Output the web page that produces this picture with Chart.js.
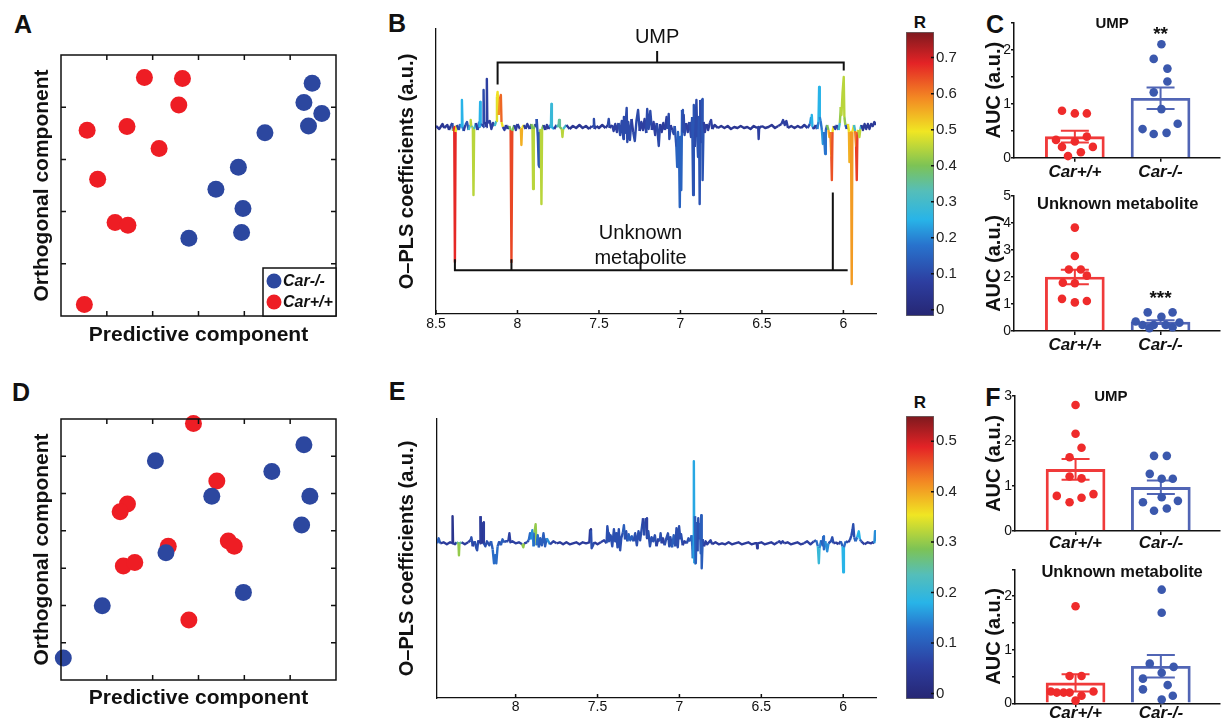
<!DOCTYPE html>
<html>
<head>
<meta charset="utf-8">
<title>Car metabolomics</title>
<script src="https://cdn.jsdelivr.net/npm/chart.js@4.4.1/dist/chart.umd.min.js"></script>
<style>
  html, body { margin: 0; padding: 0; background: #fff; }
  #fig { position: relative; width: 1224px; height: 720px; overflow: hidden; background: #fff;
         font-family: "Liberation Sans", Arial, Helvetica, sans-serif; color: #111; }
  #fig canvas { position: absolute; left: 0; top: 0; }
  .tag { position: absolute; font-weight: bold; line-height: 1; transform: translate(-50%, -50%); }
</style>
</head>
<body>
<div id="fig">
  <div class="tag" style="left:23px;top:24px;font-size:25px">A</div>
  <div class="tag" style="left:397px;top:23px;font-size:25px">B</div>
  <div class="tag" style="left:995px;top:24px;font-size:25px">C</div>
  <div class="tag" style="left:21px;top:392px;font-size:25px">D</div>
  <div class="tag" style="left:397px;top:391px;font-size:25px">E</div>
  <div class="tag" style="left:993px;top:397px;font-size:25px">F</div>
  <div class="tag" style="left:920px;top:22px;font-size:17px">R</div>
  <div class="tag" style="left:920px;top:402px;font-size:17px">R</div>
</div>
<script>
// ---------------- data ----------------
const groupLabels = ['Car+/+', 'Car-/-'];

// O-PLS score plots (predictive vs orthogonal component)
const aRedX  = [1.82, 2.65, 2.57, 0.57, 1.44, 2.14, 0.80, 1.18, 1.46, 0.51];
const aRedY  = [4.57, 4.55, 4.04, 3.56, 3.63, 3.21, 2.62, 1.79, 1.74, 0.22];
const aBlueX = [5.48, 5.30, 5.69, 5.40, 4.45, 3.87, 3.38, 3.97, 3.94, 2.79];
const aBlueY = [4.46, 4.09, 3.88, 3.64, 3.51, 2.85, 2.43, 2.06, 1.60, 1.49];
const dRedX  = [2.89, 3.40, 1.45, 1.29, 2.34, 3.65, 3.78, 1.36, 1.61, 2.79];
const dRedY  = [6.88, 5.34, 4.72, 4.51, 3.59, 3.73, 3.59, 3.06, 3.15, 1.61];
const dBlueX = [5.30, 2.06, 4.60, 5.43, 3.29, 5.25, 2.29, 3.98, 0.90, 0.05];
const dBlueY = [6.31, 5.88, 5.59, 4.93, 4.93, 4.16, 3.41, 2.35, 1.99, 0.59];

// O-PLS coefficient spectra: [ppm, coefficient, R]
const specB = [
  [8.50,0.01,0.05],[8.48,-0.02,0.05],[8.46,0.03,0.05],[8.45,-0.01,0.05],[8.43,0.02,0.06],[8.42,-0.03,0.05],
  [8.41,0.01,0.05],[8.40,0.04,0.08],[8.395,-0.04,0.10],[8.388,0.0,0.45],[8.384,-1.35,0.68],[8.380,-0.05,0.50],
  [8.372,0.02,0.06],[8.36,-0.03,0.08],[8.352,0.03,0.10],[8.345,0.0,0.20],[8.341,0.27,0.25],[8.337,0.0,0.20],
  [8.33,-0.04,0.08],[8.32,0.02,0.07],[8.31,0.05,0.12],[8.30,-0.03,0.08],[8.29,0.02,0.30],[8.287,0.07,0.45],
  [8.283,0.0,0.30],[8.274,0.0,0.30],[8.270,-0.68,0.45],[8.266,-0.02,0.30],[8.255,0.04,0.08],[8.245,-0.03,0.08],
  [8.235,0.05,0.10],[8.232,0.0,0.20],[8.229,0.25,0.25],[8.226,0.02,0.20],[8.215,0.03,0.08],[8.211,0.0,0.08],
  [8.208,0.37,0.10],[8.205,0.03,0.08],[8.195,0.05,0.06],[8.191,0.0,0.06],[8.188,0.48,0.08],[8.185,0.04,0.06],
  [8.17,0.06,0.08],[8.16,-0.02,0.06],[8.15,0.04,0.08],[8.14,0.01,0.07],[8.13,0.06,0.30],[8.126,0.30,0.48],
  [8.122,0.35,0.50],[8.115,0.12,0.50],[8.108,0.28,0.58],[8.102,0.32,0.62],[8.098,0.05,0.50],[8.09,0.0,0.08],
  [8.08,-0.03,0.08],[8.07,0.02,0.07],[8.06,-0.02,0.06],[8.05,0.01,0.06],[8.042,-0.03,0.40],[8.037,-1.35,0.65],
  [8.032,-0.04,0.40],[8.02,0.02,0.06],[8.01,-0.03,0.08],[8.00,0.03,0.07],[7.985,-0.02,0.06],[7.979,-0.02,0.50],
  [7.976,-0.18,0.55],[7.972,-0.01,0.50],[7.96,0.02,0.06],[7.95,-0.02,0.06],[7.94,0.03,0.07],[7.925,-0.02,0.06],
  [7.915,0.03,0.08],[7.908,-0.02,0.40],[7.904,-0.62,0.45],[7.900,-0.02,0.40],[7.892,0.03,0.08],[7.885,0.0,0.08],
  [7.882,0.08,0.10],[7.875,-0.10,0.12],[7.870,-0.38,0.12],[7.866,-0.40,0.12],[7.862,-0.05,0.12],[7.857,-0.02,0.40],
  [7.853,-0.77,0.45],[7.849,-0.02,0.40],[7.84,0.02,0.07],[7.83,-0.03,0.06],[7.82,0.02,0.06],[7.81,-0.02,0.06],
  [7.80,0.02,0.07],[7.795,0.0,0.25],[7.792,0.23,0.28],[7.789,0.0,0.25],[7.775,-0.02,0.06],[7.76,0.02,0.07],
  [7.748,0.0,0.30],[7.745,0.07,0.35],[7.740,0.0,0.30],[7.728,-0.02,0.40],[7.724,-0.10,0.45],[7.720,-0.02,0.30],
  [7.70,0.02,0.06],[7.68,-0.02,0.05],[7.66,0.01,0.05],[7.64,-0.01,0.05],[7.62,0.02,0.05],[7.60,-0.01,0.05],
  [7.58,0.01,0.05],[7.56,-0.02,0.05],[7.545,0.01,0.06],[7.535,0.0,0.08],[7.531,0.08,0.10],[7.527,-0.02,0.08],
  [7.515,0.01,0.05],[7.50,-0.01,0.05],[7.48,0.02,0.05],[7.46,-0.01,0.05],[7.445,0.02,0.06],[7.44,0.08,0.10],
  [7.435,-0.01,0.06],[7.42,0.02,0.06],[7.41,-0.04,0.08],[7.40,0.03,0.06],[7.39,-0.05,0.08],[7.38,0.04,0.08],
  [7.37,-0.08,0.10],[7.36,0.06,0.08],[7.35,-0.12,0.10],[7.347,0.10,0.10],[7.34,-0.06,0.08],[7.33,0.19,0.10],
  [7.326,-0.15,0.10],[7.32,0.05,0.08],[7.31,-0.13,0.10],[7.30,0.08,0.08],[7.29,-0.05,0.08],[7.28,-0.14,0.10],
  [7.27,0.06,0.08],[7.26,0.17,0.10],[7.25,-0.04,0.08],[7.24,0.05,0.08],[7.23,-0.03,0.07],[7.22,0.08,0.08],
  [7.21,-0.06,0.08],[7.204,0.18,0.10],[7.195,-0.02,0.08],[7.185,0.16,0.10],[7.175,-0.03,0.08],[7.165,0.05,0.08],
  [7.155,-0.08,0.08],[7.145,0.04,0.07],[7.133,-0.19,0.10],[7.125,0.03,0.07],[7.115,-0.05,0.07],[7.105,0.04,0.07],
  [7.095,-0.03,0.07],[7.085,0.10,0.08],[7.078,-0.02,0.07],[7.072,0.13,0.10],[7.068,-0.12,0.10],[7.06,0.02,0.07],
  [7.05,-0.03,0.07],[7.041,-0.07,0.10],[7.035,0.01,0.08],[7.025,-0.20,0.12],[7.02,-0.40,0.15],[7.015,-0.05,0.12],
  [7.008,-0.30,0.15],[7.004,-0.80,0.15],[7.000,-0.10,0.12],[6.995,-0.63,0.15],[6.990,0.17,0.12],[6.985,-0.05,0.10],
  [6.980,0.12,0.10],[6.975,-0.08,0.10],[6.965,0.04,0.08],[6.955,-0.05,0.08],[6.945,0.05,0.08],[6.935,-0.10,0.10],
  [6.928,0.10,0.10],[6.922,-0.68,0.12],[6.918,0.22,0.12],[6.912,-0.20,0.10],[6.906,0.05,0.10],[6.902,0.27,0.10],
  [6.897,-0.10,0.10],[6.892,-0.30,0.12],[6.886,0.10,0.10],[6.882,-0.77,0.12],[6.878,0.27,0.10],[6.872,-0.15,0.10],
  [6.867,0.28,0.10],[6.864,-0.53,0.12],[6.858,0.05,0.08],[6.85,-0.05,0.08],[6.84,0.03,0.07],[6.83,-0.03,0.07],
  [6.82,0.04,0.07],[6.812,0.07,0.08],[6.805,-0.02,0.06],[6.79,0.02,0.06],[6.77,-0.01,0.05],[6.75,0.01,0.05],
  [6.73,-0.01,0.05],[6.71,0.01,0.05],[6.69,-0.02,0.05],[6.67,0.0,0.05],[6.65,-0.01,0.05],[6.63,0.01,0.05],
  [6.61,-0.01,0.05],[6.59,0.0,0.05],[6.57,-0.02,0.05],[6.55,0.01,0.05],[6.53,-0.01,0.05],[6.523,0.0,0.06],
  [6.52,-0.12,0.08],[6.517,-0.01,0.06],[6.50,0.01,0.05],[6.48,-0.01,0.05],[6.46,0.0,0.05],[6.44,0.02,0.05],
  [6.42,-0.01,0.05],[6.40,0.01,0.05],[6.38,0.03,0.06],[6.37,0.07,0.08],[6.36,0.02,0.06],[6.35,0.06,0.08],
  [6.34,-0.01,0.05],[6.32,0.01,0.05],[6.30,-0.01,0.05],[6.28,0.01,0.05],[6.26,-0.01,0.05],[6.24,0.02,0.06],
  [6.22,-0.01,0.06],[6.205,0.03,0.10],[6.198,0.10,0.22],[6.194,0.12,0.25],[6.19,0.0,0.10],[6.18,-0.02,0.06],
  [6.17,0.02,0.07],[6.16,-0.02,0.08],[6.153,0.05,0.20],[6.149,0.40,0.25],[6.145,0.10,0.20],[6.14,0.06,0.15],
  [6.132,-0.03,0.18],[6.126,-0.17,0.22],[6.12,-0.05,0.15],[6.112,-0.27,0.18],[6.108,-0.03,0.12],[6.10,0.02,0.07],
  [6.092,-0.03,0.40],[6.086,-0.10,0.55],[6.08,-0.05,0.50],[6.074,-0.30,0.60],[6.071,-0.53,0.64],[6.067,-0.05,0.50],
  [6.06,0.01,0.07],[6.05,-0.02,0.07],[6.04,0.02,0.07],[6.03,-0.03,0.08],[6.022,0.04,0.30],[6.016,0.20,0.42],
  [6.012,0.12,0.45],[6.005,0.35,0.45],[5.998,0.50,0.45],[5.994,0.10,0.42],[5.988,0.02,0.15],[5.98,-0.02,0.08],
  [5.972,0.03,0.07],[5.966,-0.05,0.50],[5.963,-0.35,0.55],[5.958,-0.05,0.50],[5.953,-0.05,0.50],[5.949,-1.57,0.57],
  [5.945,-0.05,0.50],[5.935,0.02,0.07],[5.928,-0.04,0.30],[5.922,-0.20,0.60],[5.918,-0.53,0.66],[5.914,-0.05,0.50],
  [5.908,-0.03,0.40],[5.902,-0.10,0.45],[5.896,-0.02,0.30],[5.89,0.02,0.06],[5.88,-0.03,0.06],[5.87,0.03,0.06],
  [5.86,-0.02,0.06],[5.85,0.03,0.06],[5.84,-0.02,0.06],[5.83,0.03,0.06],[5.82,0.01,0.06],[5.81,0.05,0.06],
  [5.80,0.02,0.06]
];
const specE = [
  [8.48,0.0,0.05],[8.47,0.05,0.10],[8.46,0.0,0.05],[8.44,0.01,0.05],[8.42,-0.01,0.05],[8.40,0.01,0.05],
  [8.388,0.0,0.03],[8.385,0.27,0.0],[8.382,0.0,0.03],[8.37,-0.01,0.05],[8.36,0.01,0.05],[8.349,0.0,0.25],
  [8.346,-0.12,0.30],[8.343,0.0,0.25],[8.33,0.01,0.05],[8.31,-0.01,0.05],[8.29,0.01,0.05],[8.275,0.03,0.06],
  [8.27,0.06,0.08],[8.262,-0.03,0.06],[8.25,0.02,0.06],[8.24,-0.05,0.08],[8.235,-0.07,0.08],[8.228,0.03,0.06],
  [8.22,0.0,0.05],[8.217,0.0,0.03],[8.214,0.27,0.0],[8.211,0.01,0.05],[8.20,0.0,0.03],[8.197,0.21,0.03],
  [8.194,0.0,0.05],[8.185,-0.03,0.08],[8.175,0.02,0.07],[8.16,-0.02,0.08],[8.15,0.02,0.08],[8.14,-0.06,0.10],
  [8.132,-0.20,0.12],[8.125,-0.12,0.12],[8.118,-0.20,0.12],[8.11,-0.03,0.10],[8.10,0.02,0.08],[8.09,-0.02,0.08],
  [8.08,0.04,0.10],[8.07,0.01,0.08],[8.06,0.02,0.08],[8.045,0.02,0.06],[8.038,0.10,0.06],[8.032,0.01,0.06],
  [8.02,0.02,0.06],[8.00,0.0,0.05],[7.98,0.01,0.06],[7.96,-0.01,0.06],[7.953,-0.04,0.30],[7.948,0.0,0.06],
  [7.93,0.01,0.06],[7.92,0.03,0.08],[7.912,0.10,0.12],[7.905,0.04,0.10],[7.898,0.13,0.15],[7.89,-0.03,0.10],
  [7.885,0.11,0.12],[7.878,0.19,0.30],[7.872,-0.02,0.12],[7.865,0.08,0.12],[7.858,-0.04,0.10],[7.85,0.05,0.10],
  [7.84,-0.02,0.08],[7.83,0.10,0.10],[7.82,-0.03,0.08],[7.81,0.05,0.10],[7.80,0.02,0.15],[7.79,-0.01,0.06],
  [7.77,0.02,0.06],[7.75,0.0,0.05],[7.73,0.01,0.05],[7.71,-0.01,0.05],[7.69,0.01,0.05],[7.67,-0.01,0.05],
  [7.65,0.0,0.05],[7.63,0.01,0.05],[7.61,-0.01,0.05],[7.59,0.01,0.05],[7.57,0.0,0.05],[7.55,0.01,0.05],
  [7.545,0.14,0.02],[7.54,0.13,0.02],[7.536,-0.05,0.08],[7.53,-0.03,0.08],[7.52,0.01,0.05],[7.50,-0.01,0.05],
  [7.48,0.01,0.05],[7.46,0.03,0.06],[7.445,0.0,0.06],[7.44,0.17,0.08],[7.435,0.10,0.08],[7.43,0.02,0.06],
  [7.42,0.08,0.08],[7.41,-0.03,0.06],[7.40,0.14,0.08],[7.392,0.02,0.06],[7.385,0.10,0.08],[7.378,-0.04,0.06],
  [7.37,0.14,0.08],[7.362,-0.07,0.08],[7.355,0.05,0.06],[7.345,0.11,0.08],[7.339,0.18,0.10],[7.332,0.04,0.06],
  [7.325,0.12,0.08],[7.318,0.02,0.06],[7.31,0.09,0.10],[7.30,0.03,0.10],[7.29,0.07,0.10],[7.28,0.02,0.06],
  [7.27,0.10,0.08],[7.26,-0.02,0.06],[7.25,0.12,0.08],[7.24,0.03,0.06],[7.23,0.15,0.08],[7.222,0.25,0.03],
  [7.216,0.08,0.06],[7.21,0.20,0.08],[7.204,0.25,0.03],[7.198,0.05,0.06],[7.19,0.12,0.08],[7.18,-0.03,0.06],
  [7.17,0.06,0.08],[7.16,0.02,0.06],[7.15,0.08,0.08],[7.14,-0.03,0.06],[7.13,0.04,0.06],[7.12,0.02,0.06],
  [7.115,0.10,0.08],[7.108,0.0,0.06],[7.10,0.05,0.06],[7.09,-0.02,0.06],[7.08,0.05,0.08],[7.07,0.10,0.08],
  [7.062,-0.03,0.06],[7.055,0.06,0.08],[7.045,-0.04,0.08],[7.035,0.08,0.10],[7.025,-0.03,0.08],[7.018,0.15,0.08],
  [7.01,-0.04,0.08],[7.002,0.17,0.08],[6.995,0.05,0.06],[6.99,0.09,0.08],[6.98,-0.02,0.06],[6.97,0.02,0.06],
  [6.955,0.0,0.06],[6.945,0.05,0.08],[6.935,0.02,0.08],[6.925,0.08,0.10],[6.918,-0.15,0.12],[6.915,0.0,0.15],
  [6.912,0.82,0.17],[6.909,-0.20,0.15],[6.905,0.27,0.08],[6.900,-0.20,0.10],[6.895,0.20,0.10],[6.890,-0.08,0.08],
  [6.885,0.25,0.08],[6.880,0.05,0.08],[6.875,0.20,0.08],[6.870,-0.10,0.10],[6.867,0.28,0.08],[6.864,-0.25,0.10],
  [6.858,0.04,0.08],[6.85,-0.03,0.06],[6.84,0.02,0.06],[6.83,-0.01,0.05],[6.81,0.03,0.06],[6.80,-0.01,0.05],
  [6.78,0.01,0.05],[6.76,-0.01,0.05],[6.74,0.0,0.05],[6.72,-0.01,0.05],[6.70,0.01,0.05],[6.68,-0.01,0.05],
  [6.66,0.0,0.05],[6.64,0.01,0.05],[6.62,-0.01,0.05],[6.60,0.0,0.05],[6.58,0.01,0.05],[6.56,-0.01,0.05],
  [6.54,0.0,0.05],[6.528,0.0,0.05],[6.525,-0.05,0.05],[6.522,0.0,0.05],[6.50,0.01,0.05],[6.48,-0.01,0.05],
  [6.46,0.0,0.05],[6.44,0.01,0.05],[6.42,-0.01,0.05],[6.40,0.01,0.05],[6.39,0.02,0.06],[6.38,0.0,0.05],
  [6.37,0.02,0.06],[6.36,0.0,0.05],[6.34,0.01,0.05],[6.32,-0.01,0.05],[6.30,0.0,0.05],[6.28,0.01,0.05],
  [6.26,-0.01,0.05],[6.24,0.0,0.05],[6.22,0.02,0.06],[6.20,-0.01,0.05],[6.18,0.02,0.06],[6.165,0.03,0.08],
  [6.155,-0.03,0.12],[6.149,-0.20,0.20],[6.145,-0.05,0.15],[6.135,0.03,0.08],[6.126,-0.02,0.10],[6.122,0.07,0.10],
  [6.118,-0.06,0.12],[6.11,0.02,0.08],[6.098,-0.08,0.15],[6.09,0.0,0.08],[6.075,0.02,0.06],[6.067,0.06,0.08],
  [6.06,0.0,0.06],[6.045,0.01,0.05],[6.03,-0.01,0.05],[6.015,0.02,0.06],[6.004,-0.03,0.10],[6.0,-0.29,0.18],
  [5.996,-0.04,0.12],[5.985,0.02,0.08],[5.97,0.01,0.06],[5.96,0.03,0.06],[5.95,0.08,0.08],[5.943,0.14,0.08],
  [5.939,0.19,0.06],[5.933,0.06,0.08],[5.925,0.02,0.10],[5.915,0.06,0.12],[5.905,0.12,0.18],[5.898,0.04,0.10],
  [5.89,0.02,0.06],[5.87,-0.01,0.05],[5.85,0.01,0.05],[5.83,0.0,0.05],[5.82,0.01,0.05],[5.81,0.0,0.05],
  [5.806,0.12,0.15],[5.802,0.11,0.15],[5.80,0.02,0.05]
];
const specBTicks = [8.5, 8, 7.5, 7, 6.5, 6];
const specETicks = [8, 7.5, 7, 6.5, 6];

// colour bar limits and labelled values of R
const cbBRange = [-0.017, 0.771];
const cbBTicks = [0, 0.1, 0.2, 0.3, 0.4, 0.5, 0.6, 0.7];
const cbERange = [-0.011, 0.55];
const cbETicks = [0, 0.1, 0.2, 0.3, 0.4, 0.5];

// AUC per animal, group means and SEM
const cUmpMean = [0.39, 1.10], cUmpSem = [0.11, 0.20];
const cUmpRed  = [0.87, 0.82, 0.82, 0.39, 0.33, 0.30, 0.20, 0.20, 0.10, 0.03];
const cUmpRedJit  = [-0.15, 0.00, 0.14, 0.14, -0.22, 0.00, 0.21, -0.15, 0.07, -0.08];
const cUmpBlue = [2.10, 1.83, 1.65, 1.41, 1.21, 0.90, 0.63, 0.53, 0.44, 0.46];
const cUmpBlueJit = [0.01, -0.08, 0.08, 0.08, -0.08, 0.01, 0.20, -0.21, -0.08, 0.07];

const cUnkMean = [2.00, 0.33], cUnkSem = [0.27, 0.07];
const cUnkRed  = [3.83, 2.78, 2.28, 2.28, 2.05, 1.79, 1.77, 1.19, 1.06, 1.11];
const cUnkRedJit  = [0.00, 0.00, -0.07, 0.07, 0.14, -0.14, 0.00, -0.15, 0.00, 0.14];
const cUnkBlue = [0.69, 0.69, 0.53, 0.35, 0.31, 0.22, 0.22, 0.22, 0.10, 0.14];
const cUnkBlueJit = [-0.15, 0.14, 0.01, -0.29, 0.22, -0.21, -0.08, 0.06, -0.13, 0.14];

const fUmpMean = [1.37, 0.97], fUmpSem = [0.23, 0.15];
const fUmpRed  = [2.80, 2.16, 1.85, 1.64, 1.21, 1.17, 0.78, 0.74, 0.82, 0.64];
const fUmpRedJit  = [0.00, 0.00, 0.07, -0.07, -0.07, 0.07, -0.22, 0.07, 0.21, -0.07];
const fUmpBlue = [1.67, 1.67, 1.27, 1.16, 1.16, 0.75, 0.64, 0.67, 0.45, 0.50];
const fUmpBlueJit = [-0.08, 0.07, -0.13, 0.01, 0.14, 0.01, -0.21, 0.20, -0.08, 0.07];

const fUnkMean = [0.38, 0.69], fUnkSem = [0.16, 0.21];
const fUnkRed  = [1.81, 0.51, 0.51, 0.22, 0.20, 0.20, 0.20, 0.14, 0.22, 0.05];
const fUnkRedJit  = [0.00, -0.07, 0.07, -0.29, -0.22, -0.14, -0.07, 0.07, 0.21, 0.00];
const fUnkBlue = [2.12, 1.69, 0.74, 0.68, 0.57, 0.46, 0.34, 0.26, 0.07, 0.14];
const fUnkBlueJit = [0.01, 0.01, -0.13, 0.15, 0.01, -0.21, 0.08, -0.21, 0.01, 0.14];

// ---------------- styling ----------------
const FONT = '"Liberation Sans", Arial, Helvetica, sans-serif';
const INK = '#111';
const DOT_RED = '#ee1d24', DOT_BLUE = '#2c479f';
const PT_RED = '#ef2b2b', PT_BLUE = '#3b58ad';
const BAR_RED = '#f03a3a', BAR_BLUE = '#5165b5';
const JET = [
  [0.00, [38, 38, 115]], [0.12, [45, 62, 160]], [0.25, [40, 115, 205]], [0.34, [40, 180, 232]],
  [0.44, [85, 190, 185]], [0.53, [125, 195, 85]], [0.65, [240, 230, 35]], [0.77, [243, 135, 35]],
  [0.89, [228, 35, 38]], [1.00, [125, 25, 30]]
];

Chart.defaults.font.family = FONT;
Chart.defaults.color = INK;
Chart.defaults.animation = false;
Chart.defaults.events = [];
Chart.defaults.plugins.legend.display = false;
Chart.defaults.plugins.tooltip.enabled = false;

function jetColor(v, range) {
  let t = (v - range[0]) / (range[1] - range[0]);
  t = Math.max(0, Math.min(1, t));
  for (let i = 1; i < JET.length; i++) {
    if (t <= JET[i][0]) {
      const [t0, c0] = JET[i - 1], [t1, c1] = JET[i];
      const f = (t - t0) / (t1 - t0);
      const c = c0.map((a, k) => Math.round(a + (c1[k] - a) * f));
      return `rgb(${c[0]},${c[1]},${c[2]})`;
    }
  }
  return `rgb(${JET[JET.length - 1][1].join(',')})`;
}

const FIG = document.getElementById('fig');
function makeCanvas() {
  const c = document.createElement('canvas');
  c.width = 1224; c.height = 720;
  c.style.width = '1224px'; c.style.height = '720px';
  FIG.appendChild(c);
  return c;
}

// ---------------- plugins ----------------
function framePlugin(box, sides, len) {
  return {
    id: 'frame',
    afterDraw(chart) {
      const { ctx, chartArea: a, scales } = chart;
      ctx.save();
      ctx.strokeStyle = INK; ctx.lineWidth = 1.5;
      if (box) ctx.strokeRect(a.left, a.top, a.right - a.left, a.bottom - a.top);
      ctx.beginPath();
      sides.forEach(side => {
        const horiz = side === 'top' || side === 'bottom';
        const sc = horiz ? scales.x : scales.y;
        sc.ticks.forEach(t => {
          const p = sc.getPixelForValue(t.value);
          if (horiz) {
            if (box && (p <= a.left + 1 || p >= a.right - 1)) return;
            const y0 = side === 'bottom' ? a.bottom : a.top;
            ctx.moveTo(p, y0); ctx.lineTo(p, side === 'bottom' ? y0 - len : y0 + len);
          } else {
            if (box && (p <= a.top + 1 || p >= a.bottom - 1)) return;
            const x0 = side === 'left' ? a.left : a.right;
            ctx.moveTo(x0, p); ctx.lineTo(side === 'left' ? x0 + len : x0 - len, p);
          }
        });
      });
      ctx.stroke();
      ctx.restore();
    }
  };
}

const scoreLegend = {
  id: 'scoreLegend',
  afterDraw(chart) {
    const { ctx, chartArea: a } = chart;
    const w = 73, h = 48, x0 = a.right - w, y0 = a.bottom - h;
    ctx.save();
    ctx.fillStyle = '#fff'; ctx.fillRect(x0, y0, w, h);
    ctx.strokeStyle = INK; ctx.lineWidth = 1.5; ctx.strokeRect(x0, y0, w, h);
    chart.data.datasets.forEach((ds, i) => {
      const cy = y0 + 13 + i * 21;
      ctx.fillStyle = ds.backgroundColor;
      ctx.beginPath(); ctx.arc(x0 + 11, cy, 7.5, 0, Math.PI * 2); ctx.fill();
      ctx.fillStyle = INK;
      ctx.font = `italic bold 16px ${FONT}`;
      ctx.textBaseline = 'middle'; ctx.textAlign = 'left';
      ctx.fillText(ds.label, x0 + 20, cy + 1);
    });
    ctx.restore();
  }
};

function textPlugin(items) {
  return {
    id: 'texts',
    afterDatasetsDraw(chart) {
      const { ctx, scales: { x, y } } = chart;
      ctx.save();
      ctx.textAlign = 'center'; ctx.textBaseline = 'middle'; ctx.fillStyle = INK;
      items.forEach(it => {
        ctx.font = it.font;
        ctx.fillText(it.text, x.getPixelForValue(it.x), y.getPixelForValue(it.y));
      });
      ctx.restore();
    }
  };
}

function linePlugin(segs) {
  return {
    id: 'brackets',
    afterDatasetsDraw(chart) {
      const { ctx, scales: { x, y } } = chart;
      ctx.save();
      ctx.strokeStyle = INK; ctx.lineWidth = 2; ctx.lineCap = 'square';
      ctx.beginPath();
      segs.forEach(([x1, y1, x2, y2]) => {
        ctx.moveTo(x.getPixelForValue(x1), y.getPixelForValue(y1));
        ctx.lineTo(x.getPixelForValue(x2), y.getPixelForValue(y2));
      });
      ctx.stroke();
      ctx.restore();
    }
  };
}

function errorBarPlugin(means, sems) {
  return {
    id: 'errorBars',
    beforeDatasetsDraw(chart) {
      const { ctx, scales: { x, y } } = chart;
      ctx.save(); ctx.lineWidth = 2;
      means.forEach((m, i) => {
        const px = x.getPixelForValue(i + 1);
        const top = y.getPixelForValue(m + sems[i]), bot = y.getPixelForValue(m - sems[i]);
        ctx.strokeStyle = i === 0 ? BAR_RED : BAR_BLUE;
        ctx.beginPath();
        ctx.moveTo(px, top); ctx.lineTo(px, bot);
        ctx.moveTo(px - 14, top); ctx.lineTo(px + 14, top);
        ctx.moveTo(px - 14, bot); ctx.lineTo(px + 14, bot);
        ctx.stroke();
      });
      ctx.restore();
    }
  };
}

// ---------------- chart builders ----------------
function scoresChart(cfg) {
  const a = cfg.area;
  const lh = 21 * 1.2;
  const xH = cfg.xTitleY + lh / 2 - a.bottom;
  const pts = (xs, ys) => xs.map((v, i) => ({ x: v, y: ys[i] }));
  const plugins = [framePlugin(true, ['bottom', 'top', 'left', 'right'], 5)];
  if (cfg.legend) plugins.push(scoreLegend);
  new Chart(makeCanvas(), {
    type: 'scatter',
    data: { datasets: [
      { label: 'Car-/-', data: pts(cfg.blueX, cfg.blueY), backgroundColor: DOT_BLUE, pointRadius: 8.5, borderWidth: 0, clip: false },
      { label: 'Car+/+', data: pts(cfg.redX, cfg.redY), backgroundColor: DOT_RED, pointRadius: 8.5, borderWidth: 0, clip: false }
    ] },
    options: {
      responsive: false,
      layout: { padding: { left: 0, top: a.top, right: 1224 - a.right, bottom: 720 - a.bottom - xH } },
      scales: {
        x: { type: 'linear', min: 0, max: 6, ticks: { display: false, stepSize: 1 },
             grid: { display: false, drawTicks: false }, border: { display: false },
             title: { display: true, text: 'Predictive component', font: { size: 21, weight: 'bold' }, padding: 0 },
             afterFit: s => { s.height = xH; } },
        y: { type: 'linear', min: 0, max: cfg.yMax, ticks: { display: false, stepSize: 1 },
             grid: { display: false, drawTicks: false }, border: { display: false },
             title: { display: true, text: 'Orthogonal component', font: { size: 21, weight: 'bold' },
                      padding: { top: cfg.yTitleX - lh / 2, bottom: 0 } },
             afterFit: s => { s.width = a.left; } }
      }
    },
    plugins
  });
}

function spectrumChart(cfg) {
  const a = cfg.area, spec = cfg.spec;
  const R = spec.map(p => p[2]);
  const yLeft = 390, yW = a.left - yLeft, xH = 30;
  new Chart(makeCanvas(), {
    type: 'line',
    data: { datasets: [{
      data: spec.map(p => ({ x: p[0], y: p[1] })),
      borderWidth: 2.4, pointRadius: 0, tension: 0, borderJoinStyle: 'round',
      borderColor: jetColor(0.05, cfg.range),
      segment: { borderColor: c => jetColor(Math.max(R[c.p0DataIndex], R[c.p1DataIndex]), cfg.range) }
    }] },
    options: {
      responsive: false,
      layout: { padding: { left: yLeft, top: a.top, right: 1224 - a.right, bottom: 720 - a.bottom - xH } },
      scales: {
        x: { type: 'linear', reverse: true, min: 5.8, max: cfg.xMax,
             afterBuildTicks: s => { s.ticks = cfg.ticks.map(v => ({ value: v })); },
             ticks: { callback: v => String(v), font: { size: 14 }, padding: cfg.labelPad, color: INK },
             grid: { display: false, drawTicks: false }, border: { display: true, color: INK, width: 1.3 },
             afterFit: s => { s.height = xH; } },
        y: { type: 'linear', min: cfg.yMin, max: cfg.yMax, ticks: { display: false },
             grid: { display: false, drawTicks: false }, border: { display: true, color: INK, width: 1.3 },
             title: { display: true, text: 'O–PLS coefficients (a.u.)', font: { size: 20, weight: 'bold' },
                      padding: { top: 5, bottom: 0 } },
             afterFit: s => { s.width = yW; } }
      }
    },
    plugins: [framePlugin(false, ['bottom'], 4)].concat(cfg.extra || [])
  });
}

function colorbarChart(cfg) {
  const a = cfg.area, axisW = 40;
  new Chart(makeCanvas(), {
    type: 'bar',
    data: { labels: ['R'], datasets: [{
      data: [[cfg.range[0], cfg.range[1]]],
      backgroundColor: ctx => {
        const ca = ctx.chart.chartArea;
        if (!ca) return '#888';
        const g = ctx.chart.ctx.createLinearGradient(0, ca.bottom, 0, ca.top);
        JET.forEach(([t, c]) => g.addColorStop(t, `rgb(${c[0]},${c[1]},${c[2]})`));
        return g;
      },
      borderColor: 'rgba(40,40,40,0.7)', borderWidth: 1, borderSkipped: false,
      barPercentage: 1, categoryPercentage: 1
    }] },
    options: {
      responsive: false,
      layout: { padding: { left: a.left, top: a.top, right: 1224 - a.right - axisW, bottom: 720 - a.bottom } },
      scales: {
        x: { display: false },
        y: { position: 'right', min: cfg.range[0], max: cfg.range[1],
             afterBuildTicks: s => { s.ticks = cfg.ticks.map(v => ({ value: v })); },
             ticks: { callback: v => (v === 0 ? '0' : v.toFixed(1)), font: { size: 15 }, padding: 2, color: '#222' },
             grid: { display: false, drawTicks: false }, border: { display: false },
             afterFit: s => { s.width = axisW; } }
      }
    },
    plugins: [framePlugin(false, ['right'], 3)]
  });
}

function aucChart(cfg) {
  const a = cfg.area;
  const yLeft = 975, yW = a.left - yLeft, xH = 26;
  const pts = (vals, jit, g) => vals.map((v, i) => ({ x: g + jit[i], y: v }));
  new Chart(makeCanvas(), {
    type: 'bar',
    data: { datasets: [
      { type: 'scatter', data: pts(cfg.red, cfg.redJit, 1), backgroundColor: PT_RED, pointRadius: 4.3, borderWidth: 0, order: 1, clip: false },
      { type: 'scatter', data: pts(cfg.blue, cfg.blueJit, 2), backgroundColor: PT_BLUE, pointRadius: 4.3, borderWidth: 0, order: 1, clip: false },
      { type: 'bar', data: [{ x: 1, y: cfg.mean[0] }, { x: 2, y: cfg.mean[1] }],
        backgroundColor: 'rgba(255,255,255,0)', borderColor: [BAR_RED, BAR_BLUE], borderWidth: 2.2,
        barThickness: 59, grouped: false, order: 2 }
    ] },
    options: {
      responsive: false,
      layout: { padding: { left: yLeft, top: a.top, right: 1224 - a.right, bottom: 720 - a.bottom - xH } },
      scales: {
        x: { type: 'linear', offset: false, min: 0.29, max: 2.69,
             afterBuildTicks: s => { s.ticks = [{ value: 1 }, { value: 2 }]; },
             ticks: { callback: v => groupLabels[Math.round(v) - 1], font: { size: 17, weight: 'bold', style: 'italic' },
                      padding: cfg.labelPad, color: INK },
             grid: { display: true, drawOnChartArea: false, drawTicks: true, tickLength: 4, color: INK, lineWidth: 1.5, offset: false },
             border: { display: true, color: INK, width: 1.5 },
             afterFit: s => { s.height = xH; } },
        y: { type: 'linear', min: 0, max: cfg.yMax,
             ticks: { stepSize: cfg.step, callback: v => (Number.isInteger(v) ? String(v) : ''), font: { size: 14 }, padding: 0, color: INK },
             grid: { display: true, drawOnChartArea: false, drawTicks: true, tickLength: 3, color: INK, lineWidth: 1.5 },
             border: { display: true, color: INK, width: 1.5 },
             title: { display: true, text: 'AUC (a.u.)', font: { size: 20, weight: 'bold' }, padding: { top: 994 - yLeft - 12, bottom: 0 } },
             afterFit: s => { s.width = yW; } }
      }
    },
    plugins: [errorBarPlugin(cfg.mean, cfg.sem), textPlugin(cfg.texts)]
  });
}

// ---------------- panels ----------------
scoresChart({ area: { left: 61, top: 55, right: 336, bottom: 316 }, yMax: 5, xTitleY: 335, yTitleX: 42,
  redX: aRedX, redY: aRedY, blueX: aBlueX, blueY: aBlueY, legend: true });
scoresChart({ area: { left: 61, top: 419, right: 336, bottom: 680 }, yMax: 7, xTitleY: 698, yTitleX: 42,
  redX: dRedX, redY: dRedY, blueX: dBlueX, blueY: dBlueY, legend: false });

const labelFont = `20px ${FONT}`;
spectrumChart({ area: { left: 436, top: 29, right: 876, bottom: 314 }, spec: specB, range: cbBRange,
  xMax: 8.5, yMin: -1.87, yMax: 0.98, ticks: specBTicks, labelPad: 2,
  extra: [
    linePlugin([
      [8.122, 0.644, 5.998, 0.644], [8.122, 0.644, 8.122, 0.434], [5.998, 0.644, 5.998, 0.574], [7.143, 0.644, 7.143, 0.75],
      [8.384, -1.433, 5.98, -1.433], [8.384, -1.433, 8.384, -1.333], [8.037, -1.433, 8.037, -1.333],
      [6.065, -1.433, 6.065, -0.666], [7.245, -1.433, 7.245, -1.353]
    ]),
    textPlugin([
      { text: 'UMP', x: 7.143, y: 0.90, font: labelFont },
      { text: 'Unknown', x: 7.245, y: -1.06, font: labelFont },
      { text: 'metabolite', x: 7.245, y: -1.31, font: labelFont }
    ])
  ] });
spectrumChart({ area: { left: 437, top: 419, right: 876, bottom: 698 }, spec: specE, range: cbERange,
  xMax: 8.48, yMin: -1.547, yMax: 1.243, ticks: specETicks, labelPad: 1 });

colorbarChart({ area: { left: 906, top: 32, right: 934, bottom: 316 }, range: cbBRange, ticks: cbBTicks });
colorbarChart({ area: { left: 906, top: 416, right: 934, bottom: 699 }, range: cbERange, ticks: cbETicks });

const titleFont = `bold 15px ${FONT}`, title2Font = `bold 16.5px ${FONT}`, starFont = `bold 19px ${FONT}`;
aucChart({ area: { left: 1014, top: 22.7, right: 1220, bottom: 157.7 }, yMax: 2.5, step: 0.5, labelPad: 0,
  mean: cUmpMean, sem: cUmpSem, red: cUmpRed, redJit: cUmpRedJit, blue: cUmpBlue, blueJit: cUmpBlueJit,
  texts: [{ text: 'UMP', x: 1.435, y: 2.485, font: titleFont }, { text: '**', x: 2.0, y: 2.27, font: starFont }] });
aucChart({ area: { left: 1014, top: 196, right: 1220, bottom: 331 }, yMax: 5, step: 1, labelPad: 0,
  mean: cUnkMean, sem: cUnkSem, red: cUnkRed, redJit: cUnkRedJit, blue: cUnkBlue, blueJit: cUnkBlueJit,
  texts: [{ text: 'Unknown metabolite', x: 1.5, y: 4.70, font: title2Font }, { text: '***', x: 2.0, y: 1.19, font: starFont }] });
aucChart({ area: { left: 1015, top: 396, right: 1220, bottom: 531 }, yMax: 3, step: 1, labelPad: -2,
  mean: fUmpMean, sem: fUmpSem, red: fUmpRed, redJit: fUmpRedJit, blue: fUmpBlue, blueJit: fUmpBlueJit,
  texts: [{ text: 'UMP', x: 1.414, y: 2.98, font: titleFont }] });
aucChart({ area: { left: 1015, top: 569.3, right: 1220, bottom: 703.3 }, yMax: 2.5, step: 0.5, labelPad: -4,
  mean: fUnkMean, sem: fUnkSem, red: fUnkRed, redJit: fUnkRedJit, blue: fUnkBlue, blueJit: fUnkBlueJit,
  texts: [{ text: 'Unknown metabolite', x: 1.546, y: 2.44, font: title2Font }] });
</script>
</body>
</html>
